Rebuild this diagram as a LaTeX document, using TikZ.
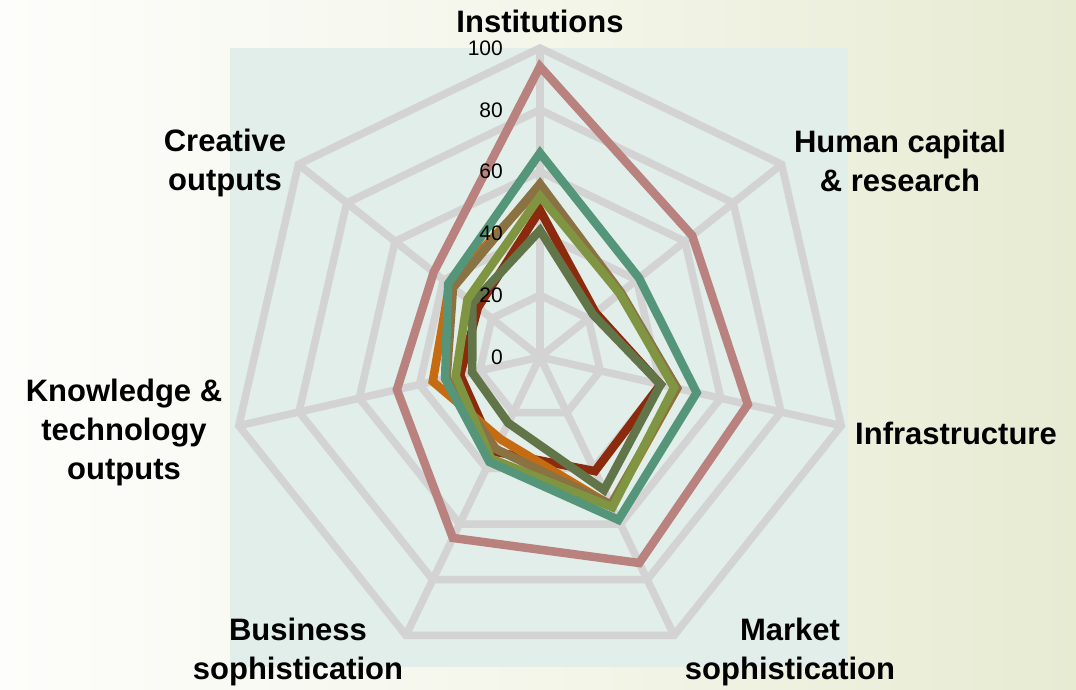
\documentclass[tikz,border=0pt]{standalone}
\usepackage{fontspec}
\setmainfont{Liberation Sans}
\usetikzlibrary{calc}
\definecolor{bgteal}{RGB}{225,238,233}
\definecolor{gridgray}{RGB}{211,211,211}
\definecolor{spink}{RGB}{185,130,127}
\definecolor{steal}{RGB}{85,149,122}
\definecolor{sbrown}{RGB}{138,114,67}
\definecolor{sorange}{RGB}{197,108,18}
\definecolor{solive}{RGB}{127,149,65}
\definecolor{sdred}{RGB}{140,42,14}
\definecolor{sdolive}{RGB}{98,117,72}
\definecolor{bgright}{RGB}{231,235,210}
\definecolor{bgleft}{RGB}{253,253,251}
\begin{document}
\begin{tikzpicture}[x=1pt,y=1pt,
  gridline/.style={draw=gridgray, line width=7.5pt},
  series/.style={line width=8.5pt, line join=miter},
  axislabel/.style={font=\bfseries\fontsize{31}{39}\selectfont, align=center, anchor=base, inner sep=0pt},
  ticklabel/.style={font=\fontsize{21}{24}\selectfont, anchor=east, inner sep=0pt}]
\useasboundingbox (0,0) rectangle (1076,690);
\shade[left color=bgleft, right color=bgright, middle color={rgb,255:red,244;green,246;blue,234}] (0,0) rectangle (1076,690);
\fill[bgteal] (230,23) rectangle (848,642);
\begin{scope}[shift={(540pt,333pt)}, x=3.09pt, y=3.09pt]
  \foreach \r in {20,40,60,80,100}
    \draw[gridline] (90:\r) -- (38.571:\r) -- (-12.857:\r) -- (-64.286:\r) -- (-115.714:\r) -- (-167.143:\r) -- (141.429:\r) -- cycle;
  \foreach \a in {90,38.571,-12.857,-64.286,-115.714,-167.143,141.429}
    \draw[gridline] (0,0) -- (\a:100);
  % pink
  \draw[series, spink] (90:94) -- (38.571:63) -- (-12.857:69) -- (-64.286:74) -- (-115.714:65) -- (-167.143:47.5) -- (141.429:44) -- cycle;
  % dark red
  \draw[series, sdred] (90:47.5) -- (38.571:23) -- (-12.857:40) -- (-64.286:41) -- (-115.714:34) -- (-167.143:26.5) -- (141.429:25.7) -- cycle;
  % dark olive
  \draw[series, sdolive] (90:41) -- (38.571:22) -- (-12.857:40) -- (-64.286:47.8) -- (-115.714:23.7) -- (-167.143:22.5) -- (141.429:28) -- cycle;
  % orange
  \draw[series, sorange] (90:55) -- (38.571:33) -- (-12.857:45.5) -- (-64.286:53.5) -- (-115.714:29.5) -- (-167.143:35.6) -- (141.429:37.5) -- cycle;
  % brown
  \draw[series, sbrown] (90:56) -- (38.571:33.5) -- (-12.857:45.5) -- (-64.286:53) -- (-115.714:33) -- (-167.143:31) -- (141.429:36) -- cycle;
  % olive green
  \draw[series, solive] (90:52) -- (38.571:33) -- (-12.857:44.5) -- (-64.286:54) -- (-115.714:36.5) -- (-167.143:28) -- (141.429:30) -- cycle;
  % teal
  \draw[series, steal] (90:66) -- (38.571:41) -- (-12.857:52) -- (-64.286:58.5) -- (-115.714:37.7) -- (-167.143:31.5) -- (141.429:38) -- cycle;
\end{scope}
\foreach \v in {0,20,40,60,80,100}
  \node[ticklabel] (tick\v) at (503,{333+\v*3.09}) {\v};
\node[axislabel] (inst) at (540,657) {Institutions};
\node[axislabel] (hum) at (900,498) {Human capital\\\& research};
\node[axislabel] (infra) at (956,245) {Infrastructure};
\node[axislabel] (mkt) at (790,10) {Market\\sophistication};
\node[axislabel] (bus) at (298,10) {Business\\sophistication};
\node[axislabel] (know) at (124,210) {Knowledge \&\\technology\\outputs};
\node[axislabel] (cre) at (225,499) {Creative\\outputs};
\end{tikzpicture}
\end{document}
